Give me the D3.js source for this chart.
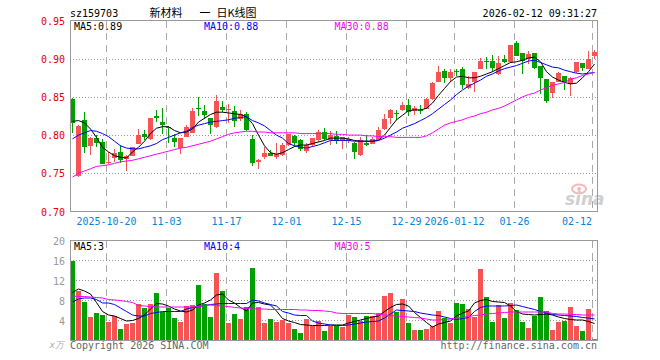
<!DOCTYPE html>
<html>
<head>
<meta charset="utf-8">
<title>新材料 日K线图</title>
<style>
    body { margin: 0; background: #fff; }
    svg text { font-family: "DejaVu Sans Mono", "Liberation Mono", monospace; font-size: 10px; }
    .cjk { font-family: "Noto Sans CJK SC", sans-serif; font-size: 11px; }
</style>
</head>
<body>
<div id="chart"></div>
<script src="https://cdnjs.cloudflare.com/ajax/libs/d3/7.8.5/d3.min.js"></script>
<script>
// trading days shown on the chart
const dates = [
    "2025-10-10","2025-10-13","2025-10-14","2025-10-15","2025-10-16","2025-10-17",
    "2025-10-20","2025-10-21","2025-10-22","2025-10-23","2025-10-24",
    "2025-10-27","2025-10-28","2025-10-29","2025-10-30","2025-10-31",
    "2025-11-03","2025-11-04","2025-11-05","2025-11-06","2025-11-07",
    "2025-11-10","2025-11-11","2025-11-12","2025-11-13","2025-11-14",
    "2025-11-17","2025-11-18","2025-11-19","2025-11-20","2025-11-21",
    "2025-11-24","2025-11-25","2025-11-26","2025-11-27","2025-11-28",
    "2025-12-01","2025-12-02","2025-12-03","2025-12-04","2025-12-05",
    "2025-12-08","2025-12-09","2025-12-10","2025-12-11","2025-12-12",
    "2025-12-15","2025-12-16","2025-12-17","2025-12-18","2025-12-19",
    "2025-12-22","2025-12-23","2025-12-24","2025-12-25","2025-12-26",
    "2025-12-29","2025-12-30","2025-12-31",
    "2026-01-05","2026-01-06","2026-01-07","2026-01-08","2026-01-09",
    "2026-01-12","2026-01-13","2026-01-14","2026-01-15","2026-01-16",
    "2026-01-19","2026-01-20","2026-01-21","2026-01-22","2026-01-23",
    "2026-01-26","2026-01-27","2026-01-28","2026-01-29","2026-01-30",
    "2026-02-02","2026-02-03","2026-02-04","2026-02-05","2026-02-06",
    "2026-02-09","2026-02-10","2026-02-11","2026-02-12"
];

const open = [0.847,0.746,0.820,0.786,0.796,0.791,0.763,0.770,0.778,0.769,
    0.773,0.789,0.801,0.795,0.825,0.817,0.811,0.796,0.783,0.797,
    0.803,0.836,0.831,0.823,0.810,0.837,0.833,0.832,0.821,0.828,
    0.795,0.765,0.771,0.777,0.771,0.774,0.787,0.799,0.793,0.779,
    0.787,0.794,0.804,0.794,0.799,0.793,0.792,0.790,0.774,0.790,
    0.789,0.794,0.808,0.822,0.829,0.833,0.840,0.832,0.833,0.834,
    0.847,0.870,0.884,0.875,0.884,0.887,0.861,0.869,0.887,0.897,
    0.897,0.880,0.900,0.896,0.920,0.907,0.900,0.907,0.891,0.874,
    0.855,0.869,0.877,0.867,0.882,0.894,0.887,0.904];
const high = [0.848,0.813,0.830,0.797,0.800,0.795,0.778,0.782,0.787,0.774,
    0.785,0.808,0.807,0.822,0.833,0.836,0.812,0.802,0.796,0.813,
    0.836,0.850,0.839,0.823,0.852,0.844,0.841,0.838,0.833,0.830,
    0.800,0.769,0.784,0.780,0.790,0.790,0.802,0.800,0.795,0.790,
    0.796,0.807,0.809,0.805,0.806,0.798,0.797,0.791,0.797,0.800,
    0.797,0.811,0.828,0.834,0.833,0.843,0.847,0.838,0.840,0.848,
    0.869,0.890,0.887,0.887,0.886,0.889,0.877,0.883,0.901,0.902,
    0.905,0.904,0.905,0.918,0.923,0.907,0.910,0.908,0.891,0.874,
    0.870,0.883,0.878,0.876,0.896,0.894,0.910,0.911];
const low = [0.803,0.745,0.777,0.774,0.784,0.762,0.762,0.765,0.764,0.753,
    0.772,0.789,0.793,0.794,0.817,0.801,0.790,0.784,0.775,0.797,
    0.803,0.825,0.821,0.801,0.809,0.830,0.816,0.811,0.818,0.806,
    0.760,0.756,0.769,0.772,0.769,0.773,0.786,0.784,0.779,0.776,
    0.784,0.791,0.793,0.787,0.789,0.782,0.790,0.769,0.773,0.786,
    0.788,0.793,0.807,0.814,0.820,0.832,0.825,0.826,0.827,0.834,
    0.846,0.869,0.868,0.869,0.877,0.860,0.860,0.857,0.886,0.887,
    0.882,0.879,0.895,0.895,0.903,0.880,0.893,0.887,0.854,0.842,
    0.848,0.869,0.859,0.851,0.881,0.884,0.886,0.900];
const close = [0.816,0.812,0.785,0.796,0.790,0.762,0.765,0.776,0.767,0.773,
    0.784,0.800,0.797,0.822,0.822,0.813,0.809,0.791,0.796,0.810,
    0.831,0.835,0.826,0.813,0.844,0.833,0.834,0.818,0.828,0.807,
    0.764,0.768,0.777,0.773,0.775,0.787,0.802,0.790,0.782,0.787,
    0.796,0.804,0.795,0.800,0.792,0.797,0.795,0.778,0.794,0.787,
    0.795,0.807,0.821,0.833,0.828,0.839,0.830,0.835,0.831,0.847,
    0.868,0.883,0.875,0.882,0.883,0.866,0.867,0.883,0.897,0.896,
    0.888,0.894,0.896,0.918,0.904,0.897,0.906,0.888,0.875,0.845,
    0.869,0.881,0.869,0.875,0.896,0.888,0.900,0.909];

// price moving averages
const ma5 = [0.818,0.819,0.816,0.808,0.797,0.784,0.778,0.773,0.771,0.770,
    0.778,0.784,0.792,0.802,0.809,0.811,0.811,0.806,0.803,0.804,
    0.808,0.817,0.822,0.827,0.830,0.830,0.829,0.828,0.827,0.824,
    0.815,0.800,0.786,0.777,0.775,0.777,0.781,0.785,0.787,0.787,
    0.789,0.791,0.793,0.796,0.796,0.796,0.795,0.793,0.792,0.792,
    0.792,0.793,0.800,0.810,0.820,0.826,0.832,0.833,0.833,0.835,
    0.842,0.852,0.861,0.870,0.876,0.877,0.875,0.875,0.877,0.880,
    0.883,0.887,0.891,0.895,0.896,0.898,0.901,0.902,0.896,0.883,
    0.876,0.872,0.869,0.867,0.868,0.875,0.883,0.893];
const ma10 = [0.795,0.800,0.803,0.806,0.805,0.802,0.798,0.792,0.786,0.783,
    0.782,0.782,0.784,0.786,0.789,0.794,0.797,0.800,0.803,0.805,
    0.810,0.813,0.815,0.817,0.818,0.819,0.820,0.822,0.823,0.824,
    0.819,0.816,0.812,0.806,0.800,0.796,0.789,0.786,0.784,0.783,
    0.785,0.787,0.790,0.793,0.793,0.793,0.793,0.792,0.792,0.792,
    0.792,0.793,0.796,0.800,0.804,0.809,0.812,0.815,0.819,0.823,
    0.828,0.834,0.840,0.846,0.853,0.859,0.864,0.868,0.872,0.877,
    0.880,0.884,0.887,0.889,0.891,0.894,0.897,0.898,0.895,0.892,
    0.889,0.888,0.885,0.883,0.881,0.880,0.881,0.882];
const ma30 = [0.745,0.750,0.753,0.756,0.759,0.760,0.761,0.763,0.765,0.766,
    0.767,0.769,0.771,0.773,0.775,0.777,0.779,0.781,0.783,0.784,
    0.786,0.788,0.790,0.792,0.795,0.798,0.801,0.803,0.804,0.805,
    0.805,0.804,0.804,0.803,0.803,0.803,0.803,0.803,0.802,0.802,
    0.802,0.802,0.802,0.802,0.801,0.801,0.800,0.800,0.800,0.799,
    0.799,0.798,0.798,0.798,0.797,0.797,0.797,0.797,0.797,0.799,
    0.803,0.808,0.813,0.816,0.818,0.820,0.823,0.825,0.828,0.830,
    0.833,0.835,0.838,0.842,0.846,0.850,0.853,0.855,0.859,0.862,
    0.865,0.867,0.869,0.873,0.875,0.878,0.880,0.882];

// volume in 万 shares
const volume = [16.0,10.0,7.8,4.8,5.6,5.2,3.8,5.0,2.4,3.4,
    3.6,7.4,6.6,7.4,9.6,5.8,6.6,4.6,3.8,7.0,
    7.2,11.2,7.4,4.8,13.6,10.0,3.6,5.4,4.4,6.8,
    14.6,6.8,3.6,4.4,3.8,4.2,3.6,2.4,1.6,4.4,
    3.0,4.0,2.0,3.0,3.0,2.8,5.2,4.8,4.0,5.0,
    5.0,5.6,9.0,9.6,5.8,8.4,3.6,2.2,2.2,2.4,
    3.0,6.0,4.6,3.6,7.6,7.4,6.4,4.8,14.4,8.8,
    3.8,7.2,4.6,7.6,6.2,3.8,2.6,5.0,8.8,6.0,
    2.2,3.8,4.0,6.8,3.0,2.0,6.4,0.4];
const volMa5 = [9.6,10.3,9.9,9.3,7.6,5.8,5.1,4.9,4.4,3.9,
    4.0,4.4,5.1,6.3,7.4,7.3,6.9,6.3,5.9,5.7,
    6.1,7.1,7.5,8.1,9.1,9.3,8.1,7.5,6.6,5.9,
    7.5,7.6,7.3,7.1,5.9,4.4,3.9,3.6,3.2,3.1,
    3.0,3.0,3.0,3.1,3.1,3.1,3.5,3.8,4.1,4.4,
    4.7,4.9,5.8,6.6,7.2,7.3,6.9,5.6,4.6,3.6,
    2.7,3.3,3.6,3.9,4.9,5.5,5.9,7.5,8.0,8.2,
    7.8,7.7,7.6,6.9,5.8,5.3,5.2,5.1,5.2,5.3,
    5.1,4.7,4.4,4.2,4.1,4.1,3.8,3.4];
const volMa10 = [7.7,8.3,8.5,8.5,8.2,7.5,7.5,7.2,6.5,5.8,
    5.1,4.9,4.9,5.4,5.6,5.8,5.8,5.8,5.8,6.3,
    6.6,6.8,7.0,7.2,7.3,7.4,7.4,7.4,7.4,7.4,
    8.1,7.9,7.5,7.2,6.9,5.8,5.5,5.1,5.0,5.0,
    3.9,3.5,3.3,3.1,3.0,3.0,3.1,3.3,3.5,3.7,
    3.8,3.9,4.5,5.3,6.1,6.0,5.9,5.8,5.5,5.3,
    5.1,5.0,4.7,4.4,4.2,4.4,4.6,5.8,6.6,6.9,
    6.9,6.9,6.9,7.0,7.1,6.8,6.5,6.2,5.8,5.5,
    5.2,5.1,5.0,4.9,4.8,4.6,4.5,4.3];
const volMa30 = [8.9,8.8,8.8,8.7,8.6,8.5,8.2,8.1,8.0,7.8,
    7.6,7.0,6.9,6.8,6.7,6.7,6.7,6.7,6.7,6.7,
    6.7,6.8,7.0,7.1,7.0,6.9,6.8,6.6,6.5,6.4,
    6.3,6.3,6.3,6.2,6.2,6.2,6.2,6.2,6.1,6.1,
    6.0,6.0,5.9,5.8,5.5,5.4,5.4,5.4,5.4,5.4,
    5.4,5.2,5.1,5.0,4.9,4.8,4.7,4.6,4.5,4.3,
    4.1,4.1,4.2,4.3,4.5,4.6,4.8,5.0,5.1,5.3,
    5.4,5.5,5.6,5.7,5.7,5.7,5.7,5.7,5.7,5.7,
    5.4,5.3,5.3,5.2,5.2,5.1,5.1,5.1];

const tickDates = ["2025-10-20","2025-11-03","2025-11-17","2025-12-01","2025-12-15",
    "2025-12-29","2026-01-12","2026-01-26","2026-02-12"];
const tickLabels = ["2025-10-20","11-03","11-17","12-01","12-15","12-29","2026-01-12","01-26","02-12"];
const priceTicks = [0.70, 0.75, 0.80, 0.85, 0.90, 0.95];
const volTicks = [4, 8, 12, 16, 20];

// layout
const W = 660, H = 360;
const left = 70, right = 597;
const mainTop = 20.5, mainBottom = 211.5;
const volTop = 240.5, volBottom = 340.5;
const RED = "#f65454", GREEN = "#00a000";
const MA_COLORS = ["#000000", "#0000ff", "#ff00ff"];

const svg = d3.select("#chart").append("svg")
    .attr("width", W)
    .attr("height", H);

const x = d3.scaleBand()
    .domain(dates)
    .range([left - 0.5, left + 527.5])
    .paddingInner(1 / 6)
    .paddingOuter(1 / 12);
const cx = d => x(d) + x.bandwidth() / 2;

const y = d3.scaleLinear().domain([0.70, 0.95]).range([mainBottom, mainTop]);
const vy = d3.scaleLinear().domain([0, 20]).range([volBottom, volTop]);

// grid
const grid = svg.append("g").attr("shape-rendering", "crispEdges");

grid.selectAll(".hgrid")
    .data(priceTicks.slice(1, -1))
    .enter().append("line")
    .attr("x1", left).attr("x2", right)
    .attr("y1", d => Math.round(y(d)) + 0.5)
    .attr("y2", d => Math.round(y(d)) + 0.5)
    .attr("stroke", "#999").attr("stroke-dasharray", "1,2");

grid.selectAll(".vhgrid")
    .data(volTicks.slice(0, -1))
    .enter().append("line")
    .attr("x1", left).attr("x2", right)
    .attr("y1", d => vy(d)).attr("y2", d => vy(d))
    .attr("stroke", "#999").attr("stroke-dasharray", "1,2");

tickDates.forEach(d => {
    const gx = x(d) + 0.5;
    [[mainTop, mainBottom], [volTop, volBottom]].forEach(([a, b]) => {
        grid.append("line")
            .attr("x1", gx).attr("x2", gx)
            .attr("y1", a).attr("y2", b)
            .attr("stroke", "#aaa")
            .attr("stroke-dasharray", "7,5");
    });
});

// sina watermark
const wm = svg.append("g").attr("opacity", 0.55);
wm.append("ellipse")
    .attr("cx", 579).attr("cy", 189).attr("rx", 7).attr("ry", 4.5)
    .attr("fill", "none").attr("stroke", "#f08080").attr("stroke-width", 2);
wm.append("circle").attr("cx", 579).attr("cy", 189).attr("r", 2).attr("fill", "#f08080");
wm.append("text")
    .attr("x", 565).attr("y", 205)
    .style("font-family", "DejaVu Sans")
    .style("font-size", "17px")
    .style("font-style", "italic")
    .style("font-weight", "bold")
    .attr("fill", "#aaa")
    .text("sina");

// candles
const candles = svg.append("g").attr("shape-rendering", "crispEdges");
const isUp = i => close[i] >= open[i];

candles.selectAll(".wick")
    .data(dates)
    .enter().append("line")
    .attr("x1", d => cx(d)).attr("x2", d => cx(d))
    .attr("y1", (d, i) => y(high[i]))
    .attr("y2", (d, i) => y(low[i]))
    .attr("stroke", (d, i) => isUp(i) ? RED : GREEN);

candles.selectAll(".body")
    .data(dates)
    .enter().append("rect")
    .attr("x", d => x(d))
    .attr("width", x.bandwidth())
    .attr("y", (d, i) => y(Math.max(open[i], close[i])))
    .attr("height", (d, i) => Math.max(1, Math.abs(y(open[i]) - y(close[i]))))
    .attr("fill", (d, i) => isUp(i) ? RED : GREEN);

// volume bars
candles.selectAll(".vol")
    .data(dates)
    .enter().append("rect")
    .attr("x", d => x(d))
    .attr("width", x.bandwidth())
    .attr("y", (d, i) => vy(volume[i]))
    .attr("height", (d, i) => volBottom - vy(volume[i]))
    .attr("fill", (d, i) => isUp(i) ? RED : GREEN);

// moving average lines
const priceLine = d3.line().x((d, i) => cx(dates[i])).y(d => y(d));
const volLine = d3.line().x((d, i) => cx(dates[i])).y(d => vy(d));

[ma5, ma10, ma30].forEach((s, k) => {
    svg.append("path").datum(s)
        .attr("d", priceLine)
        .attr("fill", "none")
        .attr("stroke", MA_COLORS[k])
        .attr("stroke-width", 1);
});
[volMa5, volMa10, volMa30].forEach((s, k) => {
    svg.append("path").datum(s)
        .attr("d", volLine)
        .attr("fill", "none")
        .attr("stroke", MA_COLORS[k])
        .attr("stroke-width", 1);
});

// frames
const frame = svg.append("g").attr("shape-rendering", "crispEdges")
    .attr("fill", "none").attr("stroke", "#999");
frame.append("rect").attr("x", left + 0.5).attr("y", mainTop)
    .attr("width", right - left).attr("height", mainBottom - mainTop);
frame.append("rect").attr("x", left + 0.5).attr("y", volTop)
    .attr("width", right - left).attr("height", volBottom - volTop);

// axis labels
svg.selectAll(".plabel")
    .data(priceTicks)
    .enter().append("text")
    .attr("x", 65).attr("y", d => y(d) + 4)
    .attr("text-anchor", "end")
    .attr("fill", "#e60000")
    .text(d => d.toFixed(2));

svg.selectAll(".vlabel")
    .data(volTicks)
    .enter().append("text")
    .attr("x", 65).attr("y", d => vy(d) + 4)
    .attr("text-anchor", "end")
    .attr("fill", "#999")
    .text(d => d);

svg.append("text")
    .attr("x", 64).attr("y", 348)
    .attr("text-anchor", "end")
    .attr("fill", "#aaa")
    .style("font-style", "italic")
    .style("font-size", "9px")
    .text("x万");

svg.selectAll(".xlabel")
    .data(tickDates)
    .enter().append("text")
    .attr("x", (d, i) => {
        const w = tickLabels[i].length * 6.02;
        return Math.min(x(d) + 0.5, 592 - w / 2);
    })
    .attr("y", 225)
    .attr("text-anchor", "middle")
    .attr("fill", "#0a82d8")
    .text((d, i) => tickLabels[i]);

// header
svg.append("text").attr("x", 70).attr("y", 16.5).attr("fill", "#000").text("sz159703");
svg.append("text").attr("class", "cjk").attr("x", 149.5).attr("y", 17).text("新材料");
svg.append("text").attr("class", "cjk").attr("x", 199.5).attr("y", 17).text("一");
svg.append("text").attr("class", "cjk").attr("x", 216.5).attr("y", 17).text("日K线图");
svg.append("text").attr("x", 597).attr("y", 16.5).attr("text-anchor", "end")
    .attr("fill", "#000").text("2026-02-12 09:31:27");

// legends
const fmt2 = d3.format(".2f");
const legendX = [74, 204, 334.5];
["MA5", "MA10", "MA30"].forEach((name, k) => {
    const p = [ma5, ma10, ma30][k];
    const v = [volMa5, volMa10, volMa30][k];
    svg.append("text").attr("x", legendX[k]).attr("y", 30)
        .attr("fill", MA_COLORS[k]).text(name + ":" + fmt2(p[p.length - 1]));
    svg.append("text").attr("x", legendX[k]).attr("y", 250)
        .attr("fill", MA_COLORS[k]).text(name + ":" + Math.round(v[v.length - 1]));
});

// footer
svg.append("text").attr("x", 70).attr("y", 349).attr("fill", "#666")
    .text("Copyright 2026 SINA.COM");
svg.append("text").attr("x", 597).attr("y", 349).attr("text-anchor", "end")
    .attr("fill", "#666").text("http://finance.sina.com.cn");
</script>
</body>
</html>
